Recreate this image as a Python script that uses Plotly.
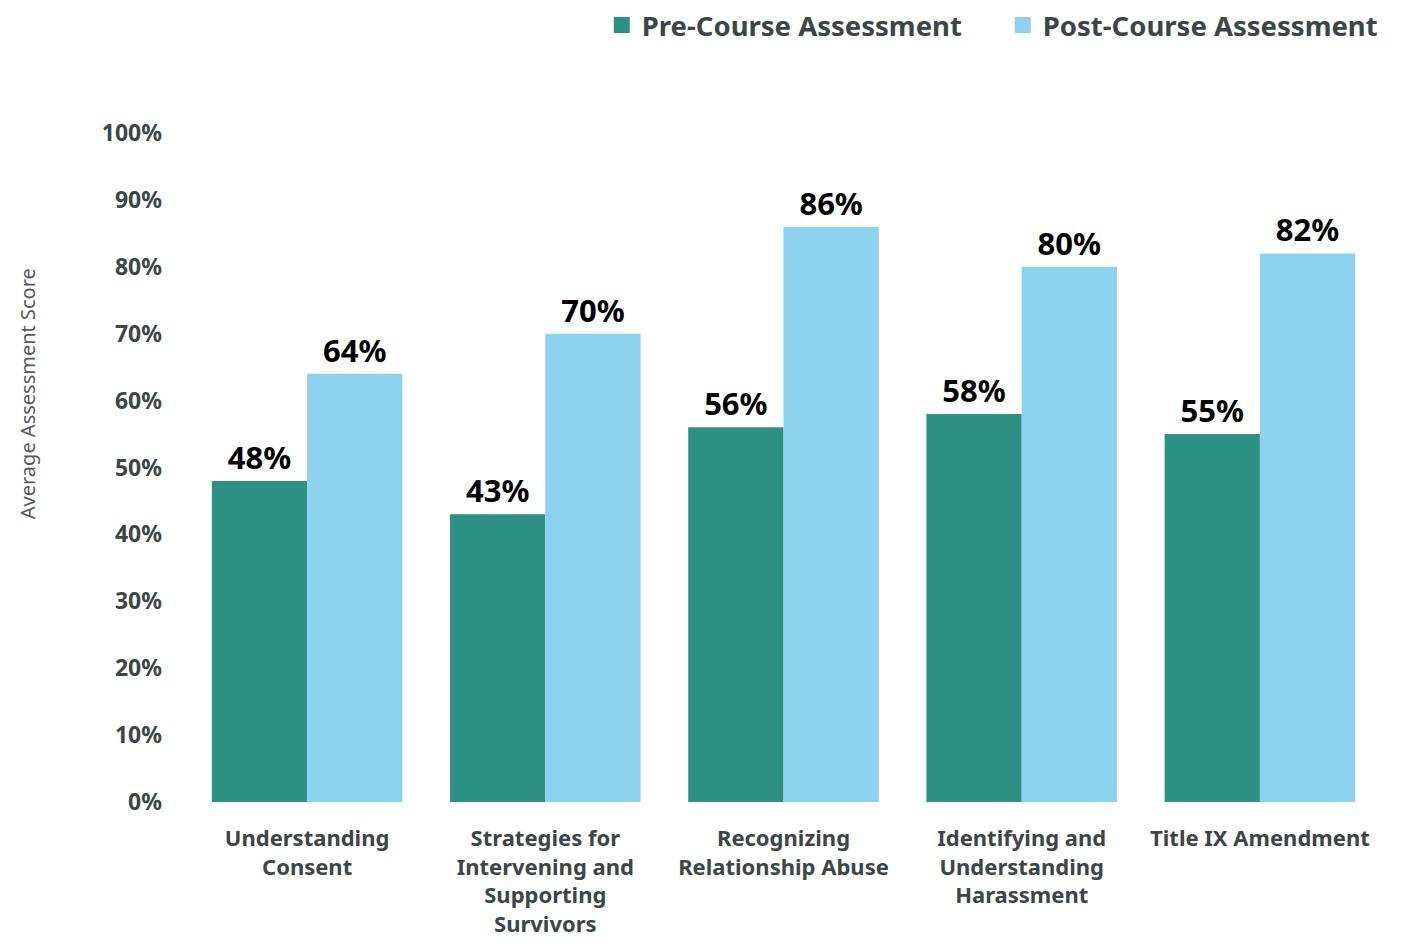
import plotly.graph_objects as go

categories = [
    "Understanding<br>Consent",
    "Strategies for<br>Intervening and<br>Supporting<br>Survivors",
    "Recognizing<br>Relationship Abuse",
    "Identifying and<br>Understanding<br>Harassment",
    "Title IX Amendment",
]
pre_course = [48, 43, 56, 58, 55]
post_course = [64, 70, 86, 80, 82]
y_ticks = [0, 10, 20, 30, 40, 50, 60, 70, 80, 90, 100]

FONT = "Noto Sans"
GREY = "#3c4646"
PRE_COLOR = "#2c9082"
POST_COLOR = "#8dd1f0"

# the page body has an 8px margin, so the figure is a bit smaller than the window
W, H = 1398, 939

fig = go.Figure()

# Pre-course bars
fig.add_trace(go.Bar(
    x=categories,
    y=pre_course,
    name="Pre-Course Assessment",
    marker=dict(color=PRE_COLOR, line=dict(width=0)),
    text=[f"{v}%" for v in pre_course],
    textposition="outside",
    textfont=dict(family=FONT, size=31, color="#000000", weight="bold"),
    cliponaxis=False,
    showlegend=False,
))

# Post-course bars
fig.add_trace(go.Bar(
    x=categories,
    y=post_course,
    name="Post-Course Assessment",
    marker=dict(color=POST_COLOR, line=dict(width=0)),
    text=[f"{v}%" for v in post_course],
    textposition="outside",
    textfont=dict(family=FONT, size=31, color="#000000", weight="bold"),
    cliponaxis=False,
    showlegend=False,
))

# legend-only entries so the squares are big like the original
for name, color in [("Pre-Course Assessment", PRE_COLOR), ("Post-Course Assessment", POST_COLOR)]:
    fig.add_trace(go.Scatter(
        x=[None], y=[None],
        mode="markers",
        name=name,
        marker=dict(symbol="square", size=18, color=color),
    ))

fig.update_layout(
    width=W,
    height=H,
    barmode="group",
    bargap=0.2,
    bargroupgap=0,
    plot_bgcolor="white",
    paper_bgcolor="white",
    margin=dict(l=180, r=27, t=125, b=145, autoexpand=False),
    font=dict(family=FONT, color=GREY),
    showlegend=True,
    legend=dict(
        orientation="h",
        x=1.0208, xanchor="right",
        y=1.1614, yanchor="middle",
        font=dict(family=FONT, size=27.5, color=GREY, weight="bold"),
        itemwidth=30,
        entrywidth=356,
        traceorder="normal",
    ),
    annotations=[dict(
        text="Average Assessment Score",
        textangle=-90,
        xref="paper", yref="paper",
        x=-0.1352, y=0.611,
        xanchor="center", yanchor="middle",
        showarrow=False,
        font=dict(family=FONT, size=20, color="#595959"),
    )],
)

fig.update_xaxes(
    showline=False,
    showgrid=False,
    ticks="",
    automargin=False,
    tickfont=dict(family=FONT, size=22, color=GREY, weight="bold"),
    ticklabelstandoff=21,
)

fig.update_yaxes(
    range=[0, 100],
    tickvals=y_ticks,
    ticktext=[f"{v}%" for v in y_ticks],
    showgrid=False,
    zeroline=False,
    showline=False,
    ticks="",
    automargin=False,
    tickfont=dict(family=FONT, size=23, color=GREY, weight="bold"),
    ticklabelstandoff=25,
)

fig.write_html("out.html")
